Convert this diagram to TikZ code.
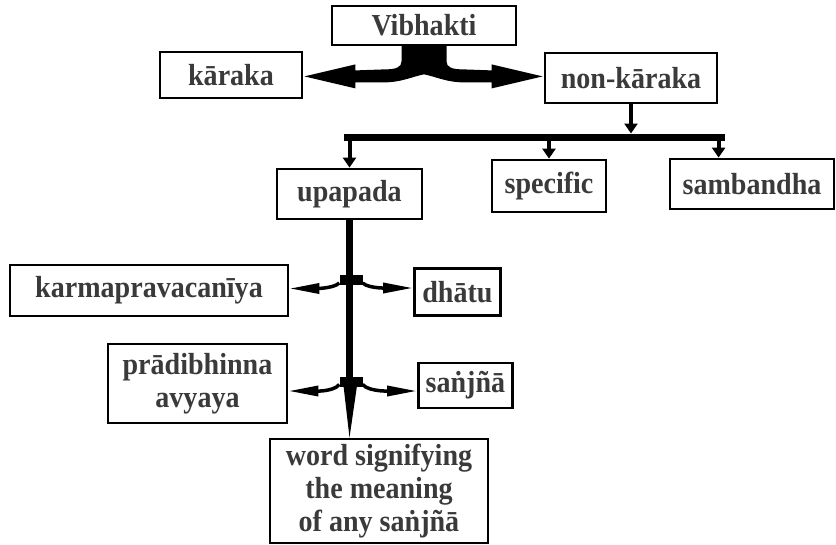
\documentclass[tikz,border=0pt]{standalone}
\usepackage{fontspec}
\setmainfont{Liberation Serif}[FakeStretch=0.92]
\usetikzlibrary{calc,arrows.meta}
\definecolor{txt}{HTML}{3A3A3A}
\begin{document}
\begin{tikzpicture}[x=1pt,y=-1pt,
  box/.style={draw=black, line width=2.8pt, inner sep=0pt, align=center, text=txt,
    font=\bfseries\fontsize{30.5}{33}\selectfont},
  dar/.style={line width=4pt, -{Triangle[length=10pt,width=13pt]}},
  side/.style={line width=3.5pt, -{Triangle[length=30pt,width=10pt]}},
  junc/.style={fill=black, minimum width=23pt, minimum height=10pt, inner sep=0pt},
  trunk/.style={line width=7pt}]
\useasboundingbox (0,0) rectangle (836,544);

\node[box,minimum width=184,minimum height=39] (vib) at (424,25.5) {Vibhakti};
\node[box,minimum width=142,minimum height=46] (kar) at (231,75) {kāraka};
\node[box,minimum width=172,minimum height=50] (nk) at (631,78) {non-kāraka};
\node[box,minimum width=145,minimum height=50] (up) at (349.5,194) {upapada};
\node[box,minimum width=114,minimum height=52] (spec) at (549,186) {specific};
\node[box,minimum width=164,minimum height=50] (samb) at (752,184) {sambandha};
\node[box,minimum width=278,minimum height=51] (karma) at (149,290.5) {karmapravacanīya};
\node[box,anchor=west,minimum width=86,minimum height=47] (dhatu) at (413,292) {dhātu};
\node[box,minimum width=179,minimum height=79] (prad) at (197.5,383.5) {prādibhinna\\avyaya};
\node[box,anchor=west,minimum width=94,minimum height=45] (sanj) at (417,385.5) {saṅjñā};
\node[box,minimum width=218,minimum height=104] (word) at (379,491) {word signifying\\the meaning\\of any saṅjñā};

% fork from Vibhakti
\fill let \p1=(vib.south), \p2=(kar.east), \p3=(nk.west) in
 (\x1-22.5pt,\y1+1pt) -- (\x1-22.5pt,\y1-15pt)
 .. controls (\x1-22.5pt,\y1-21pt) and (\x1-28pt,\y1-23pt) .. (\x1-40pt,\y1-23pt)
 -- (\x2+52pt,\y1-24pt) -- (\x2+52pt,\y1-18pt) -- (\x2+1pt,\y1-30pt) -- (\x2+52pt,\y1-42pt) -- (\x2+52pt,\y1-36pt)
 -- (\x1-40pt,\y1-36pt) .. controls (\x1-22pt,\y1-36pt) and (\x1-8pt,\y1-29pt) .. (\x1,\y1-28pt)
 .. controls (\x1+8pt,\y1-29pt) and (\x1+22pt,\y1-36pt) .. (\x1+40pt,\y1-36pt)
 -- (\x3-52pt,\y1-36pt) -- (\x3-52pt,\y1-42pt) -- (\x3-1pt,\y1-30pt) -- (\x3-52pt,\y1-18pt) -- (\x3-52pt,\y1-24pt)
 -- (\x1+40pt,\y1-23pt) .. controls (\x1+28pt,\y1-23pt) and (\x1+22.5pt,\y1-21pt) .. (\x1+22.5pt,\y1-15pt)
 -- (\x1+22.5pt,\y1+1pt) -- cycle;

% bar under non-karaka
\coordinate (bar) at (0,137);
\coordinate (sambtop) at ($(samb.north west)+(50,0)$);
\draw[trunk] ($(up.north |- bar)+(-6,0)$) -- ($(sambtop |- bar)+(6,0)$);
\draw[dar] (nk.south) -- ($(nk.south |- bar)+(0,-3.5)$);
\draw[dar] (up.north |- bar) -- (up.north);
\draw[dar] (spec.north |- bar) -- (spec.north);
\draw[dar] (sambtop |- bar) -- (sambtop);

% trunk under upapada
\node[junc] (j1) at ($(up.south |- 0,280)+(1.5,0)$) {};
\node[junc] (j2) at ($(up.south |- 0,381.5)+(1.5,0)$) {};
\draw[trunk] (up.south) -- (up.south |- j2.center);
\fill ($(j2.south)+(-7.5,-1)$) -- ($(j2.south)+(6,-1)$) -- (up.south |- word.north) -- cycle;

\draw[side] ($(j1.west)+(0,3)$) .. controls +(-6,6) and +(22,0) .. ($(karma.east)+(0,-2)$);
\draw[side] ($(j1.east)+(0,3)$) .. controls +(6,6) and +(-22,0) .. ($(dhatu.west)+(0,-4)$);
\draw[side] ($(j2.west)+(0,3)$) .. controls +(-6,8) and +(22,0) .. ($(prad.east)+(0,7.5)$);
\draw[side] ($(j2.east)+(0,3)$) .. controls +(6,8) and +(-22,0) .. ($(sanj.west)+(0,5.5)$);
\end{tikzpicture}
\end{document}
